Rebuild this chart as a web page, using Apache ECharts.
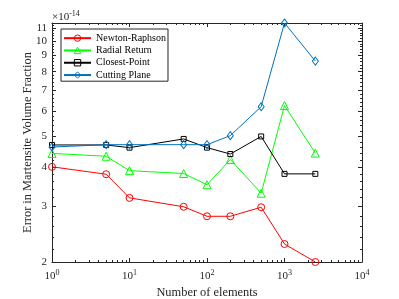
<!DOCTYPE html>
<html><head><meta charset="utf-8">
<script src="https://cdn.jsdelivr.net/npm/echarts@6/dist/echarts.min.js"></script>
<style>html,body{margin:0;padding:0;background:#fff}#c{width:399px;height:299px}</style>
</head><body><div id="c"></div>
<script>
// Data (values in units of 1e-14)
const elements = [1, 5, 10, 50, 100, 200, 500, 1000, 2500];
const newtonRaphson = [4.00, 3.79, 3.19, 2.99, 2.79, 2.79, 2.98, 2.28, 2.00];
const radialReturn  = [4.41, 4.32, 3.89, 3.81, 3.51, 4.22, 3.30, 6.25, 4.42];
const closestPoint  = [4.69, 4.69, 4.60, 4.90, 4.60, 4.39, 4.99, 3.80, 3.80];
const cuttingPlane  = [4.62, 4.70, 4.70, 4.70, 4.70, 5.02, 6.20, 11.4, 8.64];
const seriesNames = ['Newton-Raphson', 'Radial Return', 'Closest-Point', 'Cutting Plane'];
const xMajorTicks = [1, 10, 100, 1000, 10000];
const yTickLabels = [2, 3, 4, 5, 6, 7, 8, 9, 10, 11];
const yExponentText = '-14';
const xName = 'Number of elements';
const yName = 'Error in Martensite Volume Fraction';

const xMinorTicks = [];
for (let d = 1; d <= 1000; d *= 10) for (let m = 2; m <= 9; m++) xMinorTicks.push(m * d);
const yMinorTicks = [];
for (let v = 22; v <= 114; v += 2) { if (v % 10 !== 0) yMinorTicks.push(v / 10); }

const FONT = 'Liberation Serif';
const AX = '#262626';
const chart = echarts.init(document.getElementById('c'), null, {renderer: 'canvas'});

const grid = {left: 52, right: 37, top: 23, bottom: 37, containLabel: false, outerBoundsMode: 'none'};
function xAx(pos, ticks, len, showLine, showLabel) {
  return {
    type: 'log', logBase: 10, min: 1, max: 10000, position: pos,
    axisLine: {show: showLine, lineStyle: {color: AX, width: 1}},
    axisTick: {show: true, inside: true, length: len, customValues: ticks, lineStyle: {color: AX}},
    axisLabel: {show: showLabel, customValues: ticks, margin: 7, color: AX, fontFamily: FONT,
      formatter: v => '{b|10}{s|' + Math.round(Math.log10(v)) + '}',
      rich: {b: {fontSize: 11, fontFamily: FONT, color: AX}, s: {fontSize: 8, fontFamily: FONT, color: AX, padding: [0, 0, 7, 0]}}},
    splitLine: {show: false}, minorTick: {show: false},
    name: showLabel ? xName : '', nameLocation: 'middle', nameGap: 25, nameMoveOverlap: false,
    nameTextStyle: {fontFamily: FONT, fontSize: 12.4, color: AX}
  };
}
function yAx(pos, ticks, len, showLine, showLabel) {
  return {
    type: 'log', logBase: 10, min: 2, max: 11.4, position: pos,
    axisLine: {show: showLine, lineStyle: {color: AX, width: 1}},
    axisTick: {show: true, inside: true, length: len, customValues: ticks, lineStyle: {color: AX}},
    axisLabel: {show: showLabel, customValues: ticks, margin: 5, color: AX, fontFamily: FONT, fontSize: 11,
      formatter: v => String(Math.round(v))},
    splitLine: {show: false}, minorTick: {show: false},
    name: showLabel ? yName : '', nameLocation: 'middle', nameGap: 18, nameRotate: 90, nameMoveOverlap: false,
    nameTextStyle: {fontFamily: FONT, fontSize: 12.4, color: AX}
  };
}

const mk = (name, vals, color, symbol, size) => ({
  name, type: 'line', xAxisIndex: 0, yAxisIndex: 0,
  data: elements.map((e, i) => [e, vals[i]]),
  symbol, symbolSize: size, showSymbol: true,
  lineStyle: {color, width: 1},
  itemStyle: {color: 'rgba(0,0,0,0)', borderColor: color, borderWidth: 1},
  color, animation: false
});

chart.setOption({
  animation: false,
  grid,
  xAxis: [xAx('bottom', xMajorTicks, 4, true, true), xAx('top', xMajorTicks, 4, true, false),
          xAx('bottom', xMinorTicks, 2, false, false), xAx('top', xMinorTicks, 2, false, false)],
  yAxis: [yAx('left', yTickLabels, 4, true, true), yAx('right', yTickLabels, 4, true, false),
          yAx('left', yMinorTicks, 2, false, false), yAx('right', yMinorTicks, 2, false, false)],
  legend: {
    data: seriesNames, orient: 'vertical', left: 61, top: 29,
    backgroundColor: '#fff', borderColor: AX, borderWidth: 1,
    padding: [3, 2, 0, 2], itemGap: 0, itemWidth: 27, itemHeight: 8,
    itemStyle: {color: 'rgba(0,0,0,0)', borderWidth: 1},
    textStyle: {fontFamily: FONT, fontSize: 10, lineHeight: 12.3, color: '#000'}
  },
  graphic: [{
    type: 'text', left: 52, top: 10,
    style: {text: '{b|\u00d710}{s|' + yExponentText + '}', rich: {
      b: {fontSize: 11, fontFamily: FONT, fill: AX},
      s: {fontSize: 8, fontFamily: FONT, fill: AX, padding: [0, 0, 7, 0]}}}
  }],
  series: [
    mk(seriesNames[0], newtonRaphson, '#ff0000', 'circle', 7),
    mk(seriesNames[1], radialReturn, '#00ff00', 'triangle', 8),
    mk(seriesNames[2], closestPoint, '#000000', 'rect', 5),
    mk(seriesNames[3], cuttingPlane, '#0072bd', 'diamond', [6, 8])
  ]
});
</script></body></html>
